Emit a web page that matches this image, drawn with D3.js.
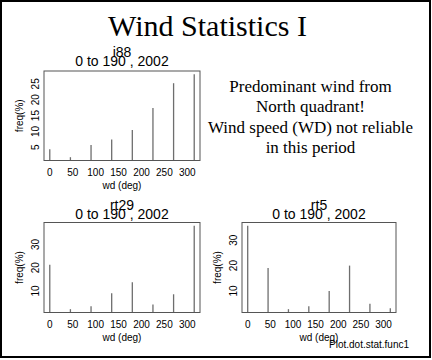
<!DOCTYPE html>
<html>
<head>
<meta charset="utf-8">
<script src="https://cdn.jsdelivr.net/npm/d3@7"></script>
<style>
html,body{margin:0;padding:0;background:#fff;}
svg{display:block;}
</style>
</head>
<body>
<svg id="chart" width="432" height="360"></svg>
<script>
// ---- data ----
const directions = [0, 45, 90, 135, 180, 225, 270, 315];
const stationNames = ["i88", "rt29", "rt5"];
const subtitle = "0 to 190 , 2002";
const freqI88  = [4.4, 1.9, 5.7, 7.5, 10.5, 17.4, 25.2, 28.0];
const freqRt29 = [21.3, 2.2, 3.5, 9.0, 13.8, 4.2, 8.6, 38.0];
const freqRt5  = [35.7, 19.1, 2.8, 4.0, 10.0, 20.0, 4.9, 3.2];
const xTicks = [0, 50, 100, 150, 200, 250, 300];
const yTicksI88  = [5, 10, 15, 20, 25];
const yTicksRt29 = [10, 20, 30];
const yTicksRt5  = [10, 20, 30];
const mainTitle = "Wind Statistics I";
const noteLines = ["Predominant wind from", "North quadrant!", "Wind speed (WD) not reliable", "in this period"];
const xLabel = "wd (deg)";
const yLabel = "freq(%)";
const footer = "Plot.dot.stat.func1";

// ---- layout ----
const SANS = "'Liberation Sans', Arial, Helvetica, sans-serif";
const SERIF = "'Liberation Serif', 'Times New Roman', Times, serif";
const svg = d3.select("#chart");

svg.append("rect").attr("x", 1).attr("y", 1).attr("width", 429).attr("height", 356)
  .attr("fill", "#fff").attr("stroke", "#000").attr("stroke-width", 2);

svg.append("text").attr("x", 207.5).attr("y", 35.5).attr("text-anchor", "middle")
  .attr("font-family", SERIF).attr("font-size", 30).attr("fill", "#000").text(mainTitle);

const panels = [
  {name: stationNames[0], vals: freqI88,  yt: yTicksI88,  x0: 44,  x1: 200, y0: 71,    y1: 160.5, t1: 57.3, t2: 65.7},
  {name: stationNames[1], vals: freqRt29, yt: yTicksRt29, x0: 44,  x1: 200, y0: 222.5, y1: 312.5, t1: 209.5, t2: 219.3},
  {name: stationNames[2], vals: freqRt5,  yt: yTicksRt5,  x0: 242, x1: 396, y0: 222.5, y1: 312.5, t1: 209.5, t2: 219.3}
];

function rRange(arr) {
  const mn = d3.min(arr), mx = d3.max(arr), r = mx - mn;
  return [mn - 0.04 * r, mx + 0.04 * r];
}

panels.forEach(p => {
  const xr = rRange(directions);
  const x = d3.scaleLinear().domain(xr).range([p.x0, p.x1]);
  const y = d3.scaleLinear().domain(rRange(p.vals)).range([p.y1, p.y0]);
  const g = svg.append("g");
  const cx = (p.x0 + p.x1) / 2;

  // bars (type = "h")
  g.selectAll("line.bar").data(directions.map((d, i) => ({d, v: p.vals[i]})))
    .enter().append("line").attr("class", "bar")
    .attr("x1", d => x(d.d)).attr("x2", d => x(d.d))
    .attr("y1", p.y1).attr("y2", d => y(d.v))
    .attr("stroke", "#6e6e6e").attr("stroke-width", 1.3);

  // box
  g.append("rect").attr("x", p.x0).attr("y", p.y0)
    .attr("width", p.x1 - p.x0).attr("height", p.y1 - p.y0)
    .attr("fill", "none").attr("stroke", "#555").attr("stroke-width", 1);

  // x tick labels
  g.selectAll("text.xt").data(xTicks).enter().append("text")
    .attr("x", d => x(d)).attr("y", p.y1 + 11.5).attr("dy", "0.35em")
    .attr("text-anchor", "middle").attr("font-family", SANS).attr("font-size", 10)
    .attr("fill", "#000").text(d => d);

  // y tick labels (rotated, parallel to axis)
  g.selectAll("text.yt").data(p.yt).enter().append("text")
    .attr("transform", d => `translate(${p.x0 - 9},${y(d)}) rotate(-90)`)
    .attr("dy", "0.35em").attr("text-anchor", "middle")
    .attr("font-family", SANS).attr("font-size", 10).attr("fill", "#000").text(d => d);

  // axis titles
  g.append("text").attr("x", cx).attr("y", p.y1 + 24.5).attr("dy", "0.35em")
    .attr("text-anchor", "middle").attr("font-family", SANS).attr("font-size", 10)
    .attr("fill", "#000").text(xLabel);
  g.append("text")
    .attr("transform", `translate(${p.x0 - 25},${(p.y0 + p.y1) / 2}) rotate(-90)`)
    .attr("dy", "0.35em").attr("text-anchor", "middle")
    .attr("font-family", SANS).attr("font-size", 10).attr("fill", "#000").text(yLabel);

  // panel titles
  g.append("text").attr("x", cx).attr("y", p.t1).attr("text-anchor", "middle")
    .attr("font-family", SANS).attr("font-size", 14).attr("fill", "#000").text(p.name);
  g.append("text").attr("x", cx).attr("y", p.t2).attr("text-anchor", "middle")
    .attr("font-family", SANS).attr("font-size", 14).attr("fill", "#000").text(subtitle);
});

// note text
svg.append("g").selectAll("text").data(noteLines).enter().append("text")
  .attr("x", 310.5).attr("y", (d, i) => 91.5 + i * 20.5).attr("text-anchor", "middle")
  .attr("font-family", SERIF).attr("font-size", 17).attr("fill", "#000").text(d => d);

// footer
svg.append("text").attr("x", 329).attr("y", 347.5)
  .attr("font-family", SANS).attr("font-size", 10).attr("fill", "#000").text(footer);
</script>
</body>
</html>
